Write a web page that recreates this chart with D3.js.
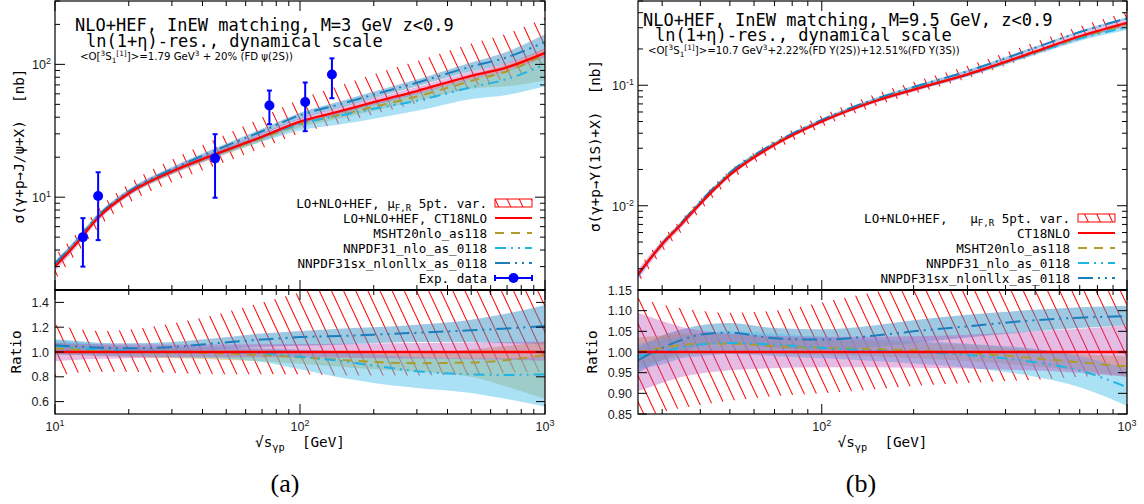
<!DOCTYPE html>
<html>
<head>
<meta charset="utf-8">
<title>Quarkonium photoproduction, NLO+HEF</title>
<script src="https://cdn.jsdelivr.net/npm/d3@7/dist/d3.min.js"></script>
<style>
  body { margin: 0; background: #fff; }
  svg { display: block; }
  text { white-space: pre; }
  .mono { font-family: 'DejaVu Sans Mono', monospace; fill: #000; }
  .sans { font-family: 'Liberation Sans', Arial, sans-serif; fill: #1a1a1a; }
  .note { font-family: 'DejaVu Sans', sans-serif; fill: #000; }
  .serif { font-family: 'Liberation Serif', 'Times New Roman', serif; fill: #000; }
</style>
</head>
<body>
<svg id="chart" width="1144" height="504"></svg>
<script>
// ---------- panel (a): J/psi, M = 3 GeV ----------
const sqrtsA  = [10, 12, 15, 20, 30, 45, 70, 100, 150, 200, 300, 500, 700, 1000];
const ct18A   = [3.0, 4.3, 7.0, 10.7, 15.6, 21, 28.5, 37, 45, 52, 63, 82, 95, 122];   // nb
// ratios to CT18NLO
const scaleLoA = [0.80, 0.83, 0.84, 0.84, 0.83, 0.82, 0.82, 0.82, 0.81, 0.81, 0.81, 0.82, 0.83, 0.84];
const scaleHiA = [1.22, 1.19, 1.17, 1.18, 1.23, 1.30, 1.40, 1.48, 1.57, 1.62, 1.68, 1.75, 1.80, 1.85];
const ct18LoA  = [0.925, 0.935, 0.945, 0.95, 0.955, 0.957, 0.957, 0.955, 0.953, 0.95, 0.947, 0.942, 0.937, 0.93];
const ct18HiA  = [1.075, 1.068, 1.062, 1.06, 1.06, 1.06, 1.062, 1.064, 1.066, 1.068, 1.072, 1.077, 1.08, 1.085];
const mshtA    = [1.03, 1.02, 1.01, 1.0, 0.995, 0.99, 0.975, 0.957, 0.935, 0.92, 0.91, 0.915, 0.935, 0.975];
const mshtLoA  = [0.98, 0.975, 0.97, 0.96, 0.95, 0.94, 0.925, 0.905, 0.88, 0.86, 0.84, 0.80, 0.72, 0.62];
const mshtHiA  = [1.08, 1.06, 1.05, 1.04, 1.035, 1.03, 1.02, 1.01, 1.0, 0.99, 0.99, 1.02, 1.05, 1.08];
const nnA      = [1.05, 1.035, 1.02, 1.01, 1.0, 1.0, 0.99, 0.962, 0.925, 0.89, 0.845, 0.82, 0.815, 0.82];
const nnLoA    = [0.98, 0.975, 0.97, 0.965, 0.96, 0.95, 0.92, 0.86, 0.79, 0.75, 0.71, 0.67, 0.62, 0.56];
const nnHiA    = [1.09, 1.08, 1.06, 1.04, 1.04, 1.04, 1.03, 1.02, 1.0, 0.98, 0.96, 0.95, 0.95, 0.96];
const sxA      = [1.055, 1.045, 1.035, 1.03, 1.04, 1.07, 1.10, 1.12, 1.13, 1.14, 1.155, 1.175, 1.19, 1.21];
const sxLoA    = [1.0, 0.995, 0.99, 0.99, 1.0, 1.02, 1.04, 1.05, 1.06, 1.07, 1.08, 1.08, 1.07, 1.06];
const sxHiA    = [1.10, 1.09, 1.075, 1.07, 1.08, 1.11, 1.15, 1.17, 1.19, 1.20, 1.22, 1.26, 1.31, 1.38];
// experimental data
const expX  = [13, 15, 45, 75, 105, 135];
const expY  = [5.0, 10.2, 19.6, 49, 52, 84];
const expLo = [3.0, 4.75, 9.9, 35.4, 31.4, 55.6];
const expHi = [6.95, 15.4, 29.8, 63.5, 73, 111];

// ---------- panel (b): Upsilon(1S), M = 9.5 GeV ----------
const sqrtsB  = [25, 30, 35, 40, 50, 70, 100, 150, 200, 300, 500, 700, 1000];
const ct18B   = [0.0027, 0.0048, 0.0072, 0.0104, 0.018, 0.032, 0.050, 0.074, 0.092, 0.123, 0.19, 0.255, 0.33];
const scaleLoB = [0.84, 0.855, 0.865, 0.872, 0.882, 0.893, 0.90, 0.91, 0.918, 0.925, 0.933, 0.94, 0.945];
const scaleHiB = [1.13, 1.115, 1.105, 1.10, 1.095, 1.10, 1.12, 1.145, 1.16, 1.18, 1.20, 1.21, 1.22];
const ct18LoB  = [0.905, 0.925, 0.94, 0.948, 0.956, 0.961, 0.963, 0.963, 0.962, 0.96, 0.955, 0.95, 0.94];
const ct18HiB  = [1.095, 1.075, 1.06, 1.052, 1.044, 1.039, 1.037, 1.037, 1.038, 1.042, 1.05, 1.056, 1.065];
const mshtB    = [1.0, 1.01, 1.017, 1.02, 1.02, 1.014, 1.01, 1.007, 1.004, 0.998, 0.985, 0.975, 0.965];
const mshtLoB  = [0.97, 0.98, 0.99, 0.995, 0.997, 0.995, 0.992, 0.99, 0.985, 0.978, 0.965, 0.955, 0.94];
const mshtHiB  = [1.035, 1.04, 1.045, 1.045, 1.043, 1.035, 1.03, 1.026, 1.023, 1.018, 1.005, 0.995, 0.99];
const nnB      = [0.99, 1.0, 1.012, 1.018, 1.022, 1.018, 1.01, 1.003, 1.0, 0.993, 0.975, 0.955, 0.915];
const nnLoB    = [0.96, 0.97, 0.985, 0.99, 0.995, 0.99, 0.985, 0.978, 0.972, 0.962, 0.94, 0.915, 0.87];
const nnHiB    = [1.02, 1.03, 1.04, 1.045, 1.05, 1.045, 1.037, 1.03, 1.027, 1.02, 1.008, 0.99, 0.96];
const sxB      = [0.98, 1.01, 1.03, 1.042, 1.047, 1.033, 1.03, 1.04, 1.05, 1.062, 1.077, 1.083, 1.087];
const sxLoB    = [0.95, 0.98, 1.0, 1.015, 1.022, 1.01, 1.005, 1.012, 1.022, 1.035, 1.05, 1.058, 1.065];
const sxHiB    = [1.01, 1.04, 1.055, 1.065, 1.07, 1.058, 1.055, 1.065, 1.077, 1.09, 1.102, 1.108, 1.112];

const ratioTicksA = [0.6, 0.8, 1.0, 1.2, 1.4];
const ratioTicksB = [0.85, 0.90, 0.95, 1.00, 1.05, 1.10, 1.15];

// ---------- layout ----------
const TOP = 1, MAIN_BOT = 290, RAT_BOT = 414;
const RED = '#ff0000', OLIVE = '#b19a2c', CYAN = '#1eb4e6', BLUE = '#1b7fbd';

const svg = d3.select('#chart');
const defs = svg.append('defs');
const pat = defs.append('pattern')
  .attr('id', 'hatch')
  .attr('patternUnits', 'userSpaceOnUse')
  .attr('width', 11).attr('height', 11)
  .attr('patternTransform', 'rotate(-25)');
pat.append('line')
  .attr('x1', 1).attr('y1', 0).attr('x2', 1).attr('y2', 11)
  .attr('stroke', RED).attr('stroke-width', 1)
  .attr('shape-rendering', 'crispEdges');

// text with sub/superscripts: parts = [[text, ''|'sup'|'sub'], ...]
function rich(sel, parts, size) {
  let shift = 0;
  parts.forEach(([t, m]) => {
    const target = m === 'sup' ? -0.4 * size : m === 'sub' ? 0.28 * size : 0;
    sel.append('tspan')
      .attr('dy', target - shift)
      .attr('font-size', m ? size * 0.72 : size)
      .text(t);
    shift = target;
  });
  return sel;
}

function drawPanel(p) {
  const xS = d3.scaleLog().domain(p.xDomain).range([p.x0, p.x1]);
  const yM = d3.scaleLog().domain(p.yDomain).range([MAIN_BOT, TOP]);
  const yR = d3.scaleLinear().domain(p.rDomain).range([RAT_BOT, MAIN_BOT]);

  defs.append('clipPath').attr('id', 'cm' + p.id).append('rect')
    .attr('x', p.x0).attr('y', TOP).attr('width', p.x1 - p.x0).attr('height', MAIN_BOT - TOP);
  defs.append('clipPath').attr('id', 'cr' + p.id).append('rect')
    .attr('x', p.x0).attr('y', MAIN_BOT).attr('width', p.x1 - p.x0).attr('height', RAT_BOT - MAIN_BOT);

  const bands = [
    { lo: p.scaleLo, hi: p.scaleHi, fill: 'url(#hatch)', op: 1 },
    { lo: p.sxLo, hi: p.sxHi, fill: '#3d94c8', op: 0.5 },
    { lo: p.mshtLo, hi: p.mshtHi, fill: '#c8a040', op: 0.45 },
    { lo: p.nnLo, hi: p.nnHi, fill: '#55c3ea', op: 0.5 },
    { lo: p.ct18Lo, hi: p.ct18Hi, fill: '#b84fb8', op: 0.38 }
  ];
  const lines = [
    { r: p.msht, color: OLIVE, dash: '9,7', w: 2 },
    { r: p.nn, color: CYAN, dash: '11,5,2,5,2,5', w: 2 },
    { r: p.sx, color: BLUE, dash: '15,5,2,5,2,5', w: 2 },
    { r: p.central.map((c, i) => c / p.central[i]), color: RED, dash: null, w: 2.3 }
  ];

  [['cm', yM, true], ['cr', yR, false]].forEach(([cid, yS, isMain]) => {
    const g = svg.append('g').attr('clip-path', `url(#${cid}${p.id})`);
    const v = (r, i) => isMain ? p.central[i] * r : r;
    bands.forEach(b => {
      const area = d3.area()
        .x((d, i) => xS(p.sqrts[i]))
        .y0((d, i) => yS(v(b.lo[i], i)))
        .y1((d, i) => yS(v(b.hi[i], i)))
        .curve(d3.curveMonotoneX);
      g.append('path').attr('d', area(p.sqrts))
        .attr('fill', b.fill).attr('fill-opacity', b.op);
    });
    lines.forEach(l => {
      const line = d3.line()
        .x((d, i) => xS(p.sqrts[i]))
        .y((d, i) => yS(v(l.r[i], i)))
        .curve(d3.curveMonotoneX);
      g.append('path').attr('d', line(p.sqrts))
        .attr('fill', 'none').attr('stroke', l.color)
        .attr('stroke-width', l.w).attr('stroke-dasharray', l.dash);
    });
    if (isMain && p.exp) {
      const e = p.exp;
      const eg = g.append('g').attr('stroke', '#0000ff').attr('stroke-width', 2);
      e.x.forEach((xv, i) => {
        eg.append('line').attr('x1', xS(xv)).attr('x2', xS(xv))
          .attr('y1', yM(e.lo[i])).attr('y2', yM(e.hi[i]));
        [e.lo[i], e.hi[i]].forEach(yy => eg.append('line')
          .attr('x1', xS(xv) - 2.5).attr('x2', xS(xv) + 2.5)
          .attr('y1', yM(yy)).attr('y2', yM(yy)));
      });
      g.selectAll('circle.exp').data(e.x).enter().append('circle')
        .attr('class', 'exp')
        .attr('cx', d => xS(d)).attr('cy', (d, i) => yM(e.y[i]))
        .attr('r', 5).attr('fill', '#0000ff');
    }
  });

  // frames
  const frame = svg.append('g').attr('fill', 'none').attr('stroke', '#000');
  frame.append('rect').attr('x', p.x0).attr('y', TOP)
    .attr('width', p.x1 - p.x0).attr('height', MAIN_BOT - TOP).attr('stroke-width', 1.2);
  frame.append('rect').attr('x', p.x0).attr('y', MAIN_BOT)
    .attr('width', p.x1 - p.x0).attr('height', RAT_BOT - MAIN_BOT).attr('stroke-width', 1.2);
  frame.append('line').attr('x1', p.x0).attr('x2', p.x1)
    .attr('y1', MAIN_BOT).attr('y2', MAIN_BOT).attr('stroke-width', 2);

  // ticks
  const tk = svg.append('g').attr('stroke', '#000').attr('stroke-width', 1);
  const isMajor = v => Math.abs(Math.log10(v) - Math.round(Math.log10(v))) < 1e-6;
  xS.ticks().forEach(t => {
    const L = isMajor(t) ? 10 : 5, X = xS(t);
    [[TOP, L], [MAIN_BOT, -L], [MAIN_BOT, L], [RAT_BOT, -L]].forEach(([y, d]) =>
      tk.append('line').attr('x1', X).attr('x2', X).attr('y1', y).attr('y2', y + d));
  });
  yM.ticks().forEach(t => {
    const L = isMajor(t) ? 10 : 5, Y = yM(t);
    tk.append('line').attr('x1', p.x0).attr('x2', p.x0 + L).attr('y1', Y).attr('y2', Y);
    tk.append('line').attr('x1', p.x1).attr('x2', p.x1 - L).attr('y1', Y).attr('y2', Y);
  });
  p.ratioTicks.forEach(t => {
    const Y = yR(t);
    tk.append('line').attr('x1', p.x0).attr('x2', p.x0 + 9).attr('y1', Y).attr('y2', Y);
    tk.append('line').attr('x1', p.x1).attr('x2', p.x1 - 9).attr('y1', Y).attr('y2', Y);
  });

  // tick labels
  const FS = 12.5;
  xS.ticks().filter(isMajor).forEach(t => {
    rich(svg.append('text').attr('class', 'sans').attr('x', xS(t)).attr('y', 431)
      .attr('text-anchor', 'middle'), [['10', ''], [String(Math.round(Math.log10(t))), 'sup']], FS);
  });
  yM.ticks().filter(isMajor).forEach(t => {
    rich(svg.append('text').attr('class', 'sans').attr('x', p.x0 - 4).attr('y', yM(t) + 5)
      .attr('text-anchor', 'end'), [['10', ''], [String(Math.round(Math.log10(t))), 'sup']], FS);
  });
  p.ratioTicks.forEach(t => {
    svg.append('text').attr('class', 'sans').attr('x', p.x0 - 6).attr('y', yR(t) + 4.5)
      .attr('text-anchor', 'end').attr('font-size', FS).text(t.toFixed(p.ratioDigits));
  });

  // axis titles
  const cx = (p.x0 + p.x1) / 2;
  rich(svg.append('text').attr('class', 'mono').attr('x', cx).attr('y', 447)
    .attr('text-anchor', 'middle'), [['√s', ''], ['γp', 'sub'], ['  [GeV]', '']], 14.3);
  svg.append('text').attr('class', 'mono').attr('font-size', 14.3)
    .attr('text-anchor', 'middle')
    .attr('transform', `translate(${p.yLabX},146) rotate(-90)`)
    .text(p.yTitle);
  svg.append('text').attr('class', 'mono').attr('font-size', 14.3)
    .attr('text-anchor', 'middle')
    .attr('transform', `translate(${p.yLabX - 3},352) rotate(-90)`)
    .text('Ratio');
  svg.append('text').attr('class', 'serif').attr('font-size', 26)
    .attr('x', p.capX).attr('y', 492).attr('text-anchor', 'middle').text(p.caption);

  // annotations
  svg.append('text').attr('class', 'mono').attr('font-size', 17)
    .attr('x', p.ann[0].x).attr('y', p.ann[0].y).text(p.ann[0].t);
  svg.append('text').attr('class', 'mono').attr('font-size', 17)
    .attr('x', p.ann[1].x).attr('y', p.ann[1].y).text(p.ann[1].t);
  rich(svg.append('text').attr('class', 'note').attr('x', p.ann[2].x).attr('y', p.ann[2].y),
    p.ann[2].parts, 10.2);

  // legend
  const lg = svg.append('g');
  p.legend.forEach((it, k) => {
    const yc = p.legY + k * 15;
    rich(lg.append('text').attr('class', 'mono').attr('x', p.legTx).attr('y', yc + 4.5)
      .attr('text-anchor', 'end'), it.parts, 12.6);
    const s0 = p.legTx + 8, s1 = p.legTx + 45;
    if (it.kind === 'hatch') {
      lg.append('rect').attr('x', s0).attr('y', yc - 4).attr('width', s1 - s0).attr('height', 8)
        .attr('fill', 'url(#hatch)').attr('stroke', RED).attr('stroke-width', 1);
    } else if (it.kind === 'data') {
      const dg = lg.append('g').attr('stroke', '#0000ff').attr('stroke-width', 2);
      dg.append('line').attr('x1', s0).attr('x2', s1).attr('y1', yc).attr('y2', yc);
      [s0, s1].forEach(xx => dg.append('line').attr('x1', xx).attr('x2', xx)
        .attr('y1', yc - 3).attr('y2', yc + 3));
      lg.append('circle').attr('cx', (s0 + s1) / 2).attr('cy', yc).attr('r', 5).attr('fill', '#0000ff');
    } else {
      lg.append('line').attr('x1', s0).attr('x2', s1).attr('y1', yc).attr('y2', yc)
        .attr('stroke', it.color).attr('stroke-width', 2).attr('stroke-dasharray', it.dash);
    }
  });
}

const legendPdf = [
  { parts: [['MSHT20nlo_as118', '']], color: OLIVE, dash: '9,7' },
  { parts: [['NNPDF31_nlo_as_0118', '']], color: CYAN, dash: '11,5,2,5,2,5' },
  { parts: [['NNPDF31sx_nlonllx_as_0118', '']], color: BLUE, dash: '15,5,2,5,2,5' }
];

drawPanel({
  id: 'a', x0: 55, x1: 545, xDomain: [10, 1000], yDomain: [2, 300], rDomain: [0.5, 1.5],
  ratioTicks: ratioTicksA, ratioDigits: 1,
  sqrts: sqrtsA, central: ct18A,
  scaleLo: scaleLoA, scaleHi: scaleHiA, ct18Lo: ct18LoA, ct18Hi: ct18HiA,
  msht: mshtA, mshtLo: mshtLoA, mshtHi: mshtHiA,
  nn: nnA, nnLo: nnLoA, nnHi: nnHiA,
  sx: sxA, sxLo: sxLoA, sxHi: sxHiA,
  exp: { x: expX, y: expY, lo: expLo, hi: expHi },
  yTitle: 'σ(γ+p→J/ψ+X)  [nb]', yLabX: 24, capX: 285, caption: '(a)',
  ann: [
    { x: 75, y: 31, t: 'NLO+HEF, InEW matching, M=3 GeV z<0.9' },
    { x: 86, y: 47, t: 'ln(1+η)-res., dynamical scale' },
    { x: 80, y: 60, parts: [['<O[', ''], ['3', 'sup'], ['S', ''], ['1', 'sub'], ['[1]', 'sup'],
      [']>=1.79 GeV', ''], ['3', 'sup'], [' + 20% (FD ψ(2S))', '']] }
  ],
  legTx: 487, legY: 203,
  legend: [
    { kind: 'hatch', parts: [['LO+NLO+HEF, μ', ''], ['F,R', 'sub'], [' 5pt. var.', '']] },
    { parts: [['LO+NLO+HEF, CT18NLO', '']], color: RED, dash: null },
    ...legendPdf,
    { kind: 'data', parts: [['Exp. data', '']] }
  ]
});

drawPanel({
  id: 'b', x0: 638, x1: 1127, xDomain: [25, 1000], yDomain: [0.002, 0.5], rDomain: [0.85, 1.15],
  ratioTicks: ratioTicksB, ratioDigits: 2,
  sqrts: sqrtsB, central: ct18B,
  scaleLo: scaleLoB, scaleHi: scaleHiB, ct18Lo: ct18LoB, ct18Hi: ct18HiB,
  msht: mshtB, mshtLo: mshtLoB, mshtHi: mshtHiB,
  nn: nnB, nnLo: nnLoB, nnHi: nnHiB,
  sx: sxB, sxLo: sxLoB, sxHi: sxHiB,
  exp: null,
  yTitle: 'σ(γ+p→Υ(1S)+X)  [nb]', yLabX: 600, capX: 861, caption: '(b)',
  ann: [
    { x: 643, y: 26, t: 'NLO+HEF, InEW matching, M=9.5 GeV, z<0.9' },
    { x: 655, y: 41, t: 'ln(1+η)-res., dynamical scale' },
    { x: 648, y: 54, parts: [['<O[', ''], ['3', 'sup'], ['S', ''], ['1', 'sub'], ['[1]', 'sup'],
      [']>=10.7 GeV', ''], ['3', 'sup'], ['+2.22%(FD Υ(2S))+12.51%(FD Υ(3S))', '']] }
  ],
  legTx: 1070, legY: 218,
  legend: [
    { kind: 'hatch', parts: [['LO+NLO+HEF,   μ', ''], ['F,R', 'sub'], [' 5pt. var.', '']] },
    { parts: [['CT18NLO', '']], color: RED, dash: null },
    ...legendPdf
  ]
});
</script>
</body>
</html>
